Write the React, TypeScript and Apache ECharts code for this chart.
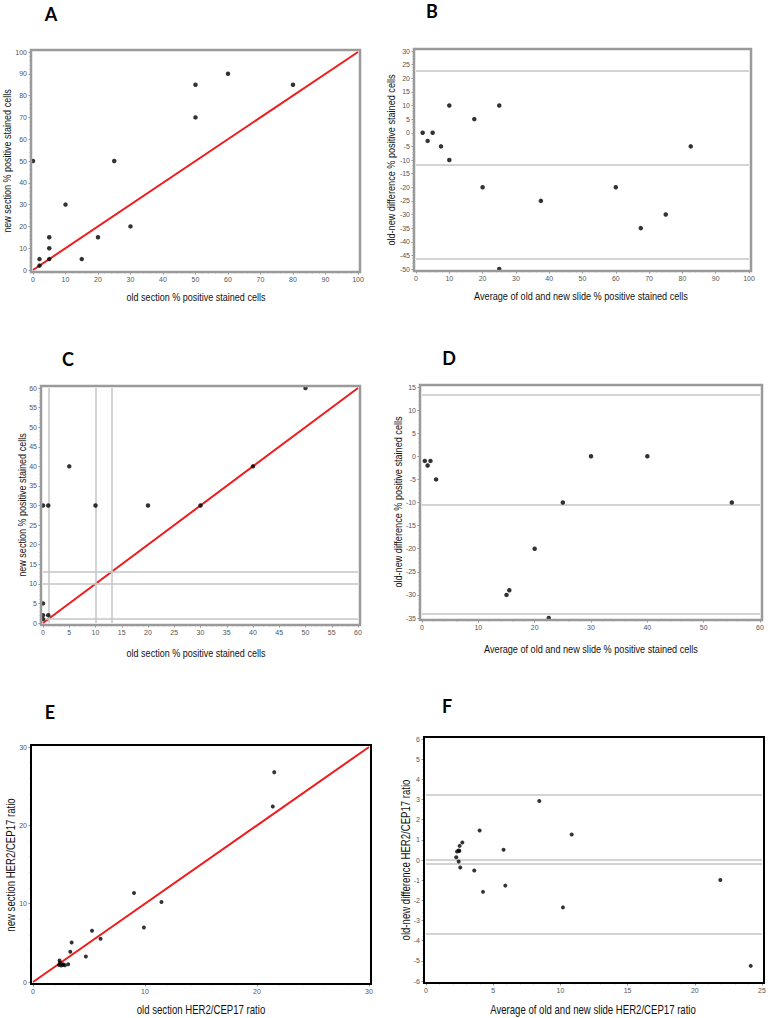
import React, { useEffect, useRef } from "react";
import * as echarts from "echarts";

// Panel A: old vs new section % positive stained cells
const aOld = [0, 2, 2, 5, 5, 5, 10, 15, 20, 25, 30, 50, 50, 60, 80];
const aNew = [50, 5, 2, 15, 10, 5, 30, 5, 15, 50, 20, 85, 70, 90, 85];
// Panel B: Bland-Altman
const bAvg = [25, 3.5, 2, 10, 7.5, 5, 20, 10, 17.5, 37.5, 25, 67.5, 60, 75, 82.5];
const bDiff = [-50, -3, 0, -10, -5, 0, -20, 10, 5, -25, 10, -35, -20, -30, -5];
const bLines = [22.6, -11.9, -46.3];
// Panel C
const cOld = [0, 1, 5, 10, 20, 30, 40, 50, 0, 0, 0, 1];
const cNew = [30, 30, 40, 30, 30, 30, 40, 60, 5, 2, 1, 2];
const cVLines = [1, 10, 13];
const cHLines = [1, 10, 13];
// Panel D
const dAvg = [15, 15.5, 22.5, 20, 25, 30, 40, 55, 2.5, 1, 0.5, 1.5];
const dDiff = [-30, -29, -35, -20, -10, 0, 0, -10, -5, -2, -1, -1];
const dLines = [13.4, -10.4, -34.1];
// Panel E: HER2/CEP17 ratio
const eOld = [9.9, 11.47, 4.72, 3.14, 2.85, 2.52, 2.67, 2.7, 2.32, 2.4, 2.37, 3.33, 3.45, 6.03, 5.27, 9.02, 21.41, 21.54];
const eNew = [6.95, 10.21, 3.26, 2.27, 2.15, 2.1, 2.2, 2.25, 2.18, 2.47, 2.74, 3.85, 5.03, 5.52, 6.54, 11.37, 22.4, 26.79];
// Panel F
const fAvg = [8.43, 10.84, 3.99, 2.7, 2.5, 2.31, 2.43, 2.48, 2.25, 2.43, 2.55, 3.59, 4.24, 5.77, 5.9, 10.19, 21.9, 24.16];
const fDiff = [2.93, 1.26, 1.46, 0.87, 0.7, 0.42, 0.47, 0.45, 0.14, -0.07, -0.37, -0.52, -1.58, 0.51, -1.27, -2.35, -0.99, -5.25];
const fLines = [3.26, 0, -0.2, -3.64];

const labelsText = ["A", "B", "C", "D", "E", "F"];
const pctOld = "old section % positive stained cells";
const pctNew = "new section % positive stained cells";
const pctAvg = "Average of old and new slide % positive stained cells";
const pctDiff = "old-new difference % positive stained cells";
const herOld = "old section HER2/CEP17 ratio";
const herNew = "new section HER2/CEP17 ratio";
const herAvg = "Average of old and new slide HER2/CEP17 ratio";
const herDiff = "old-new difference HER2/CEP17 ratio";

type Panel = {
  grid: { left: number; top: number; width: number; height: number };
  x: [number, number, number];
  y: [number, number, number];
  box: string;
  bw: number;
  xs: number[];
  ys: number[];
  identity?: number;
  hLines?: number[];
  vLines?: number[];
  letter: [number, number];
  xTitle: [string, number, number];
  yTitle: [string, number, number];
  fs: number;
  sx: number;
  sym: number;
};

const panels: Panel[] = [
  { grid: { left: 33, top: 52, width: 325, height: 218 }, x: [0, 100, 10], y: [0, 100, 10], box: "#9a9a9a", bw: 2.5,
    xs: aOld, ys: aNew, identity: 100, letter: [51, 14], xTitle: [pctOld, 196, 297], yTitle: [pctNew, 7, 161], fs: 10.5, sx: 0.86, sym: 4.5 },
  { grid: { left: 416, top: 51, width: 333, height: 218 }, x: [0, 100, 10], y: [-50, 30, 5], box: "#9a9a9a", bw: 2.5,
    xs: bAvg, ys: bDiff, hLines: bLines, letter: [432, 11], xTitle: [pctAvg, 581, 296], yTitle: [pctDiff, 391, 160], fs: 10.5, sx: 0.87, sym: 4.5 },
  { grid: { left: 43, top: 388, width: 315, height: 235 }, x: [0, 60, 5], y: [0, 60, 5], box: "#9a9a9a", bw: 2.5,
    xs: cOld, ys: cNew, identity: 60, hLines: cHLines, vLines: cVLines, letter: [68, 359], xTitle: [pctOld, 196, 653], yTitle: [pctNew, 22, 505], fs: 10.5, sx: 0.86, sym: 4.5 },
  { grid: { left: 422, top: 387, width: 338, height: 231 }, x: [0, 60, 10], y: [-35, 15, 5], box: "#9a9a9a", bw: 2.5,
    xs: dAvg, ys: dDiff, hLines: dLines, letter: [449, 358], xTitle: [pctAvg, 591, 649], yTitle: [pctDiff, 398, 502], fs: 10.5, sx: 0.87, sym: 4.5 },
  { grid: { left: 33, top: 747, width: 336, height: 235 }, x: [0, 30, 10], y: [0, 30, 10], box: "#000000", bw: 2,
    xs: eOld, ys: eNew, identity: 30, letter: [50, 712], xTitle: [herOld, 201, 1010], yTitle: [herNew, 11, 865], fs: 12, sx: 0.8, sym: 4 },
  { grid: { left: 426, top: 739, width: 336, height: 242 }, x: [0, 25, 5], y: [-6, 6, 1], box: "#000000", bw: 2,
    xs: fAvg, ys: fDiff, hLines: fLines, letter: [447, 706], xTitle: [herAvg, 593, 1010], yTitle: [herDiff, 406, 860], fs: 12, sx: 0.8, sym: 4 },
];

export default function App() {
  const ref = useRef<HTMLDivElement>(null);
  useEffect(() => {
    const chart = echarts.init(ref.current!, null, { renderer: "svg" });
    const grids: any[] = [];
    const xAxes: any[] = [];
    const yAxes: any[] = [];
    const series: any[] = [];
    const graphics: any[] = [];
    const pad = 2;
    panels.forEach((p, i) => {
      grids.push({ ...p.grid, containLabel: false });
      const axisCommon = (r: [number, number, number]) => ({
        gridIndex: i,
        type: "value",
        min: r[0],
        max: r[1],
        interval: r[2],
        offset: pad,
        axisLine: { show: false, onZero: false },
        axisTick: { show: true, length: 2.5, lineStyle: { color: "#777", width: 0.8 } },
        minorTick: { show: true, splitNumber: 5, length: 1.5, lineStyle: { color: "#999", width: 0.6 } },
        splitLine: { show: false },
        axisLabel: { fontSize: 7, color: "#555555", fontFamily: "Liberation Sans", margin: 4 },
      });
      xAxes.push({ ...axisCommon(p.x), position: "bottom" });
      yAxes.push({ ...axisCommon(p.y), position: "left" });
      const markData: any[] = [];
      (p.hLines || []).forEach((v) => markData.push({ yAxis: v }));
      (p.vLines || []).forEach((v) => markData.push({ xAxis: v }));
      series.push({
        type: "scatter",
        xAxisIndex: i,
        yAxisIndex: i,
        symbol: "circle",
        symbolSize: p.sym,
        itemStyle: { color: "#000" },
        data: p.xs.map((v, k) => [v, p.ys[k]]),
        z: 5,
        markLine: markData.length
          ? {
              silent: true,
              symbol: "none",
              label: { show: false },
              lineStyle: { color: "#c4c4c4", width: 1.5, type: "solid" },
              data: markData,
            }
          : undefined,
      });
      if (p.identity !== undefined) {
        series.push({
          type: "line",
          xAxisIndex: i,
          yAxisIndex: i,
          symbol: "none",
          lineStyle: { color: "#ee1c1c", width: 2 },
          data: [
            [0, 0],
            [p.identity, p.identity],
          ],
          z: 4,
        });
      }
      graphics.push({
        type: "rect",
        shape: { x: p.grid.left - pad, y: p.grid.top - pad, width: p.grid.width + 2 * pad, height: p.grid.height + 2 * pad },
        style: { fill: "none", stroke: p.box, lineWidth: p.bw },
        z: 10,
      });
      graphics.push({
        type: "text",
        x: p.letter[0],
        y: p.letter[1],
        style: { text: labelsText[i], font: "bold 18px Lato", fill: "#000", align: "center", verticalAlign: "middle" },
      });
      graphics.push({
        type: "text",
        x: p.xTitle[1],
        y: p.xTitle[2],
        scaleX: p.sx,
        style: { text: p.xTitle[0], font: `${p.fs}px "Liberation Sans"`, fill: "#111", align: "center", verticalAlign: "middle" },
      });
      graphics.push({
        type: "text",
        x: p.yTitle[1],
        y: p.yTitle[2],
        rotation: Math.PI / 2,
        scaleX: p.sx,
        style: { text: p.yTitle[0], font: `${p.fs}px "Liberation Sans"`, fill: "#111", align: "center", verticalAlign: "middle" },
      });
    });
    chart.setOption({
      animation: false,
      backgroundColor: "#fff",
      grid: grids,
      xAxis: xAxes,
      yAxis: yAxes,
      series,
      graphic: graphics,
    });
    return () => chart.dispose();
  }, []);
  return <div ref={ref} style={{ position: "absolute", left: 0, top: 0, width: 770, height: 1018, background: "#fff" }} />;
}
